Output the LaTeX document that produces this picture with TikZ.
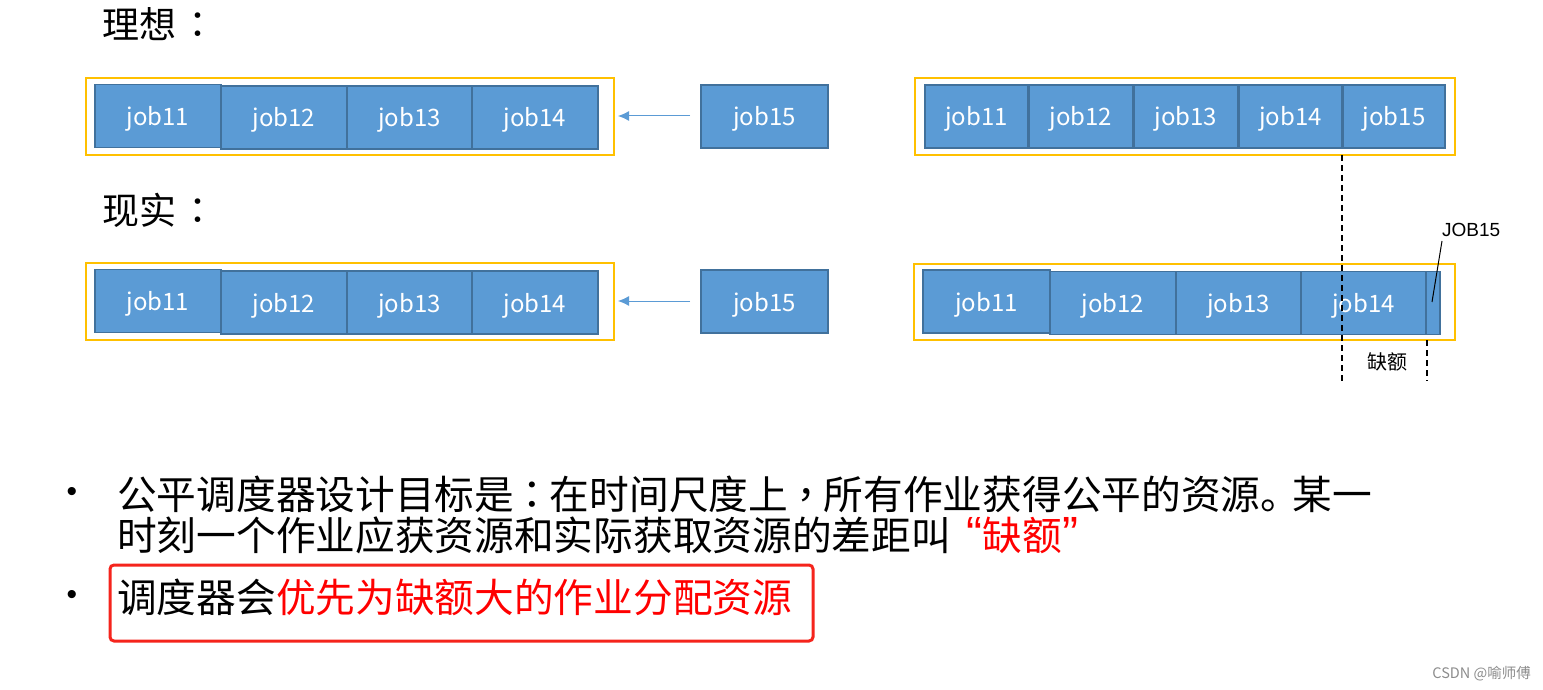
\documentclass[tikz,border=0pt]{standalone}
\usepackage{fontspec}
\setmainfont{Noto Sans CJK SC}
\newfontfamily\cjk{Noto Sans CJK SC}
\newfontfamily\tcf{Noto Sans CJK TC}
\newfontfamily\lat{Liberation Sans}
\usetikzlibrary{arrows.meta}
\definecolor{jobfill}{HTML}{5B9BD5}
\definecolor{jobedge}{HTML}{41719C}
\definecolor{frameyel}{HTML}{FFC000}
\definecolor{redtxt}{HTML}{FF0000}
\definecolor{redbox}{HTML}{F5241C}
\newcommand{\pn}[1]{\makebox[0.9em][c]{\tcf #1}}
\tikzset{
  jobbox/.style={draw=jobedge, fill=jobfill, line width=1.5pt, text=white, inner sep=0pt,
    minimum height=63pt, text height=19pt, text depth=0pt, font=\cjk\fontsize{24}{26}\selectfont},
  framebox/.style={draw=frameyel, line width=2pt, inner sep=0pt},
  title/.style={font=\cjk\fontsize{37}{39}\selectfont, anchor=west, inner sep=0pt},
  bodytxt/.style={font=\cjk\fontsize{39.7}{42}\selectfont, anchor=west, inner sep=0pt},
  blarrow/.style={draw=jobfill, line width=1pt, -{Latex[length=11pt,width=10pt]}},
  dashline/.style={draw=black, line width=1.2pt, dash pattern=on 6pt off 4pt}
}
\begin{document}
\begin{tikzpicture}[x=1pt,y=-1pt]
\useasboundingbox (0,0) rectangle (1543,690);
% titles
\node[title] (t1) at (102,24) {理想\hspace{3pt}{\tcf ：}};
\node[title] (t2) at (102,210) {现实\hspace{3pt}{\tcf ：}};
% ---- ideal, left
\node[framebox, minimum width=528pt, minimum height=77pt] (f1) at (350,116.5) {};
\node[jobbox, minimum width=126pt] (a1) at (158,116) {job11};
\node[jobbox, minimum width=126pt] (a2) at (284,117.5) {job12};
\node[jobbox, minimum width=125pt] (a3) at (409.5,117.5) {job13};
\node[jobbox, minimum width=126pt] (a4) at (535,117.5) {job14};
\node[jobbox, minimum width=127pt] (a5) at (764.5,116.5) {job15};
\coordinate (ar1) at (618,116);
\draw[blarrow] (690,116) -- (ar1);
% ---- ideal, right
\node[framebox, minimum width=540pt, minimum height=77pt] (f2) at (1185,116.5) {};
\node[jobbox, minimum width=103pt] (b1) at (976.5,116.5) {job11};
\node[jobbox, minimum width=104pt] (b2) at (1081,116.5) {job12};
\node[jobbox, minimum width=104pt] (b3) at (1186,116.5) {job13};
\node[jobbox, minimum width=103pt] (b4) at (1290.5,116.5) {job14};
\node[jobbox, minimum width=102pt] (b5) at (1394,116.5) {job15};
% ---- real, left
\node[framebox, minimum width=528pt, minimum height=77pt] (f3) at (350,301.5) {};
\node[jobbox, minimum width=126pt] (c1) at (158,301) {job11};
\node[jobbox, minimum width=126pt] (c2) at (284,302.5) {job12};
\node[jobbox, minimum width=125pt] (c3) at (409.5,302.5) {job13};
\node[jobbox, minimum width=126pt] (c4) at (535,302.5) {job14};
\node[jobbox, minimum width=127pt] (c5) at (764.5,301.5) {job15};
\coordinate (ar2) at (618,301);
\draw[blarrow] (690,301) -- (ar2);
% ---- real, right
\node[framebox, minimum width=541pt, minimum height=76pt] (f4) at (1184.5,302) {};
\node[jobbox, minimum width=127pt] (d1) at (986.5,301.5) {job11};
\node[jobbox, minimum width=126pt] (d2) at (1113,303) {job12};
\node[jobbox, minimum width=125pt] (d3) at (1238.5,303) {job13};
\node[jobbox, minimum width=125pt] (d4) at (1363.5,303) {job14};
\node[jobbox, minimum width=14pt] (d5) at (1433,303) {};
% dashed markers
\coordinate (m1t) at (1342,155);
\coordinate (m1b) at (1342,381);
\coordinate (m2t) at (1427,340);
\coordinate (m2b) at (1427,381);
\draw[dashline] (m1t) -- (m1b);
\draw[dashline] (m2t) -- (m2b);
\node[font=\cjk\fontsize{20}{22}\selectfont, inner sep=0pt] (qe) at (1387,362) {缺额};
% JOB15 label
\node[font=\lat\fontsize{19}{21}\selectfont, anchor=west, inner sep=0pt] (jl) at (1442,230) {JOB15};
\coordinate (jlb) at (1432,302);
\draw[line width=1pt] (1442,241) -- (jlb);
% bullets
\node[font=\lat\fontsize{30}{32}\selectfont, inner sep=0pt] (bu1) at (72,494) {•};
\node[font=\lat\fontsize{30}{32}\selectfont, inner sep=0pt] (bu2) at (72,597) {•};
\node[bodytxt] (l1) at (117,494) {公平调度器设计目标是\pn{：}在时间尺度上\pn{，}所有作业获得公平的资源\makebox[0.8em][l]{。}某一};
\node[bodytxt] (l2) at (117,535) {时刻一个作业应获资源和实际获取资源的差距叫\hspace{16pt}\textcolor{redtxt}{{\lat\fontsize{48}{48}\selectfont “}缺额{\lat\fontsize{48}{48}\selectfont ”}}};
\node[draw=redbox, line width=3pt, rounded corners=4pt, minimum width=703pt, minimum height=76pt, inner sep=0pt] (rb) at (461.5,603) {};
\node[bodytxt] (l3) at (117,597) {调度器会\textcolor{redtxt}{优先为缺额大的作业分配资源}};
% watermark
\node[font=\cjk\fontsize{14.5}{16}\selectfont, text=black!45, anchor=east, inner sep=0pt] (wm) at (1531,674) {CSDN @喻师傅};
\end{tikzpicture}
\end{document}
